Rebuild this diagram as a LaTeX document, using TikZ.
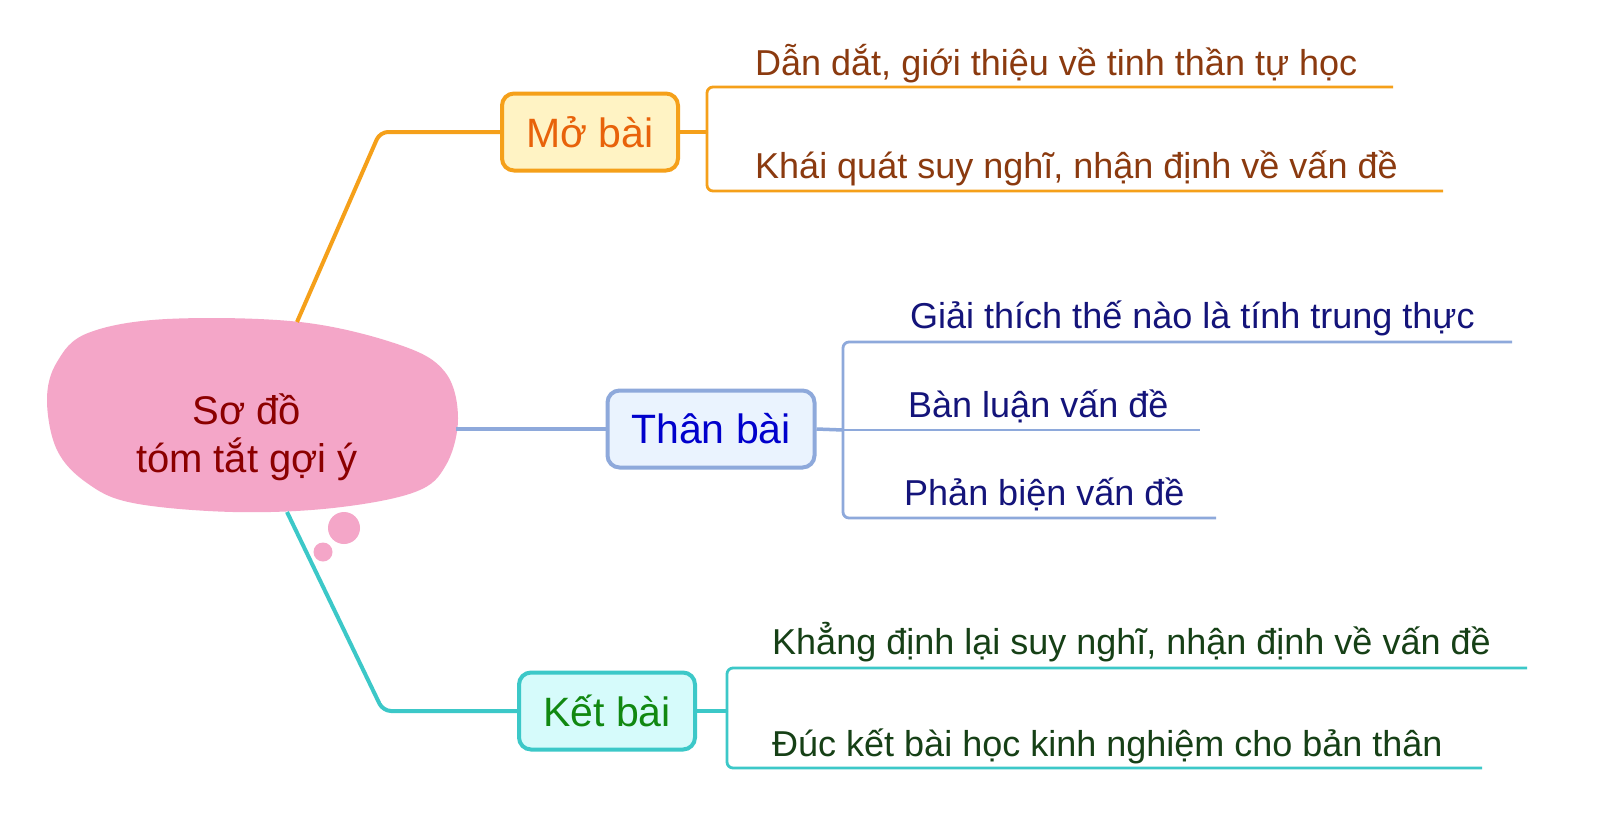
\documentclass[tikz,border=0pt]{standalone}
\usepackage{fontspec}
\setmainfont{Liberation Sans}
\definecolor{orline}{HTML}{F5A01A}
\definecolor{orfill}{HTML}{FFF3C4}
\definecolor{ortext}{HTML}{E8620A}
\definecolor{orleaf}{HTML}{8B3A0F}
\definecolor{blline}{HTML}{8EA9DB}
\definecolor{blfill}{HTML}{EAF3FE}
\definecolor{bltext}{HTML}{0000CC}
\definecolor{blleaf}{HTML}{14147A}
\definecolor{tlline}{HTML}{3CC8C8}
\definecolor{tlfill}{HTML}{D6FBFB}
\definecolor{tltext}{HTML}{118811}
\definecolor{tlleaf}{HTML}{164016}
\definecolor{blobpink}{HTML}{F4A6C8}
\definecolor{blobtext}{HTML}{8B0000}
\begin{document}
\begin{tikzpicture}[x=1pt,y=-1pt,
  every node/.style={inner sep=0pt},
  boxnode/.style={draw, line width=4pt, rounded corners=12pt, minimum height=77pt, font=\fontsize{41}{46}\selectfont},
  leaf/.style={anchor=base west, font=\fontsize{36}{40}\selectfont},
  conn/.style={line width=4pt, rounded corners=8pt},
  thin/.style={line width=2.8pt, rounded corners=6pt}
]
\useasboundingbox (0,0) rectangle (1600,828);
\fill[white] (0,0) rectangle (1600,828);

% central blob
\fill[blobpink] plot[smooth cycle, tension=0.6] coordinates {
 (47,400) (57,362) (88,333) (167,319) (300,322) (400,345) (445,372) (458,418)
 (446,465) (415,492) (333,508) (233,512) (133,503) (87,483) (57,450)};
\fill[blobpink] (344,528) circle (16);
\fill[blobpink] (323,552) circle (9.5);
\node[align=center, text=blobtext, font=\fontsize{40}{48}\selectfont] (root) at (247,437) {Sơ đồ\\tóm tắt gợi ý};
\coordinate (rtop) at (297,322);
\coordinate (rright) at (456,429);
\coordinate (rbot) at (287,512);

% boxes
\node[boxnode, fill=orfill, draw=orline, text=ortext, minimum width=176pt] (mo) at (590,132) {Mở bài};
\node[boxnode, fill=blfill, draw=blline, text=bltext, minimum width=207pt] (than) at (711,429) {Thân bài};
\node[boxnode, fill=tlfill, draw=tlline, text=tltext, minimum width=176pt] (ket) at (607,711) {Kết bài};

% main connectors
\draw[conn, orline] (rtop) -- (380,132) -- (mo.west);
\draw[conn, blline, line width=3.5pt] (rright) -- (than.west);
\draw[conn, tlline] (rbot) -- (383,711) -- (ket.west);

% Mở bài leaves
\node[leaf, text=orleaf] (m1) at (755,75) {Dẫn dắt, giới thiệu về tinh thần tự học};
\node[leaf, text=orleaf] (m2) at (755,178) {Khái quát suy nghĩ, nhận định về vấn đề};
\coordinate (m1e) at (1393,87);
\coordinate (m2e) at (1443,191);
\draw[conn, orline] (mo.east) -- (707,132);
\draw[thin, orline] (707,132) |- (m1e);
\draw[thin, orline] (707,132) |- (m2e);

% Thân bài leaves
\node[leaf, text=blleaf] (t1) at (910,328) {Giải thích thế nào là tính trung thực};
\node[leaf, text=blleaf] (t2) at (908,417) {Bàn luận vấn đề};
\node[leaf, text=blleaf] (t3) at (904,505) {Phản biện vấn đề};
\coordinate (t1e) at (1512,342);
\coordinate (t2e) at (1200,430);
\coordinate (t3e) at (1216,518);
\draw[conn, blline, line width=3.5pt] (than.east) -- (843,430);
\draw[thin, blline] (843,430) -- (t2e);
\draw[thin, blline] (843,430) |- (t1e);
\draw[thin, blline] (843,430) |- (t3e);

% Kết bài leaves
\node[leaf, text=tlleaf] (k1) at (772,654) {Khẳng định lại suy nghĩ, nhận định về vấn đề};
\node[leaf, text=tlleaf] (k2) at (772,756) {Đúc kết bài học kinh nghiệm cho bản thân};
\coordinate (k1e) at (1527,668);
\coordinate (k2e) at (1482,768);
\draw[conn, tlline] (ket.east) -- (727,711);
\draw[thin, tlline] (727,711) |- (k1e);
\draw[thin, tlline] (727,711) |- (k2e);
\end{tikzpicture}
\end{document}
